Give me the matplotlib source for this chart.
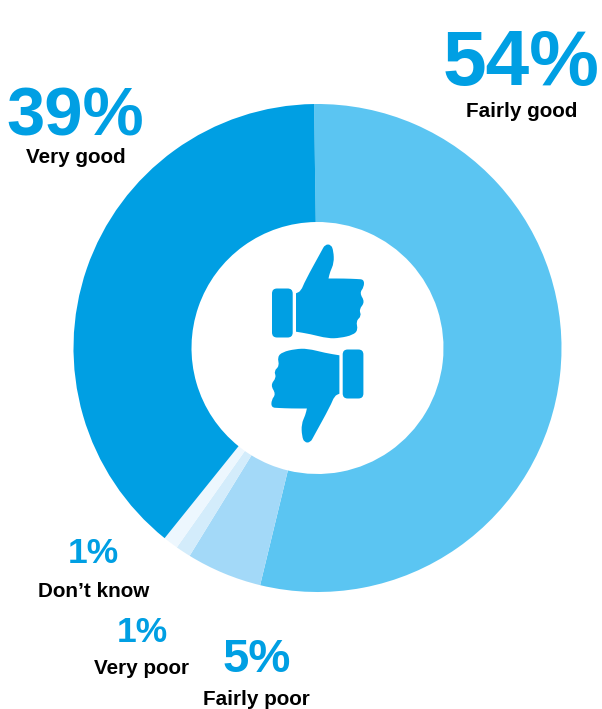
import matplotlib
matplotlib.use('Agg')
import matplotlib.pyplot as plt
from matplotlib.patches import PathPatch, FancyBboxPatch
from matplotlib.path import Path
from matplotlib.transforms import Affine2D

W, H = 602, 709

# Respuestas, en sentido horario desde arriba
categorias = ['Fairly good', 'Fairly poor', 'Very poor', "Don\u2019t know", 'Very good']
valores = [54, 5, 1, 1, 39]
colores = ['#5BC5F2', '#A3D9F8', '#D3ECFB', '#EDF7FE', '#009FE3']

# Posicion en pixeles de cada etiqueta: (x, linea base del numero, linea base del texto)
pos_etiquetas = [(521.5, 85, 117), (256.5, 672, 705), (142, 642, 674), (93.5, 563, 597), (75.5, 136, 163)]
tam_numero = [56.5, 34, 25.5, 25.5, 49.5]
tam_texto = 14.9

AZUL = '#009FE3'
plt.rcParams['font.family'] = ['Liberation Sans', 'DejaVu Sans']

fig = plt.figure(figsize=(W / 100, H / 100), dpi=100)
ax = fig.add_axes([0, 0, 1, 1])

ax.pie(valores, colors=colores, startangle=90.8, counterclock=False,
       center=(317.5, H - 348), radius=244,
       wedgeprops=dict(width=118, linewidth=0))
ax.set_xlim(0, W)
ax.set_ylim(0, H)
ax.set_aspect('equal')
ax.axis('off')


def px(x, y):
    """Pasa coordenadas de pixel (y hacia abajo) a las del eje."""
    return (x, H - y)


def ruta_suave(puntos):
    """Curva cerrada: cada punto es control de una cuadratica entre puntos medios.
    Un punto repetido queda como esquina viva."""
    n = len(puntos)
    medio = lambda a, b: ((a[0] + b[0]) / 2, (a[1] + b[1]) / 2)
    verts = [medio(puntos[-1], puntos[0])]
    cod = [Path.MOVETO]
    for i in range(n):
        verts += [puntos[i], medio(puntos[i], puntos[(i + 1) % n])]
        cod += [Path.CURVE3, Path.CURVE3]
    verts.append(verts[0])
    cod.append(Path.CLOSEPOLY)
    return Path([px(*v) for v in verts], cod)


# Contorno de la mano con el pulgar arriba
mano = [
    (296.0, 293.3), (296.0, 293.3), (301, 291), (305, 281), (321.5, 251), (325, 244.5),
    (331, 244.5), (333.5, 251), (334, 263), (330, 272), (328.5, 278.5), (328.5, 278.5),
    (344, 278.5), (357, 279), (364, 279.5), (364, 287), (359.5, 293), (365, 302),
    (359, 309.5), (361.5, 316), (356, 321), (358, 330), (353, 335), (340, 338),
    (328, 338.5), (310, 334), (296.0, 331.7), (296.0, 331.7),
]
ruta = ruta_suave(mano)

centro_giro = px(317.7, 343.5)
giro = Affine2D().rotate_deg_around(centro_giro[0], centro_giro[1], 180)

ax.add_patch(PathPatch(ruta, facecolor=AZUL, edgecolor='none'))
ax.add_patch(PathPatch(ruta.transformed(giro), facecolor=AZUL, edgecolor='none'))

# Punos de las dos manos
for x0, y0 in [(272.0, 288.5), (342.7, 349.5)]:
    ax.add_patch(FancyBboxPatch((x0 + 5, H - y0 - 49 + 5), 10.7, 39,
                                boxstyle='round,pad=5', facecolor=AZUL, edgecolor='none'))

for cat, val, (x, y_num, y_txt), tn in zip(categorias, valores, pos_etiquetas, tam_numero):
    ax.text(x, H - y_num, f'{val}%', color=AZUL, fontsize=tn, fontweight='bold',
            ha='center', va='baseline', zorder=5)
    ax.text(x, H - y_txt, cat, color='black', fontsize=tam_texto, fontweight='bold',
            ha='center', va='baseline', zorder=5)

fig.savefig('out.png', dpi=100)
